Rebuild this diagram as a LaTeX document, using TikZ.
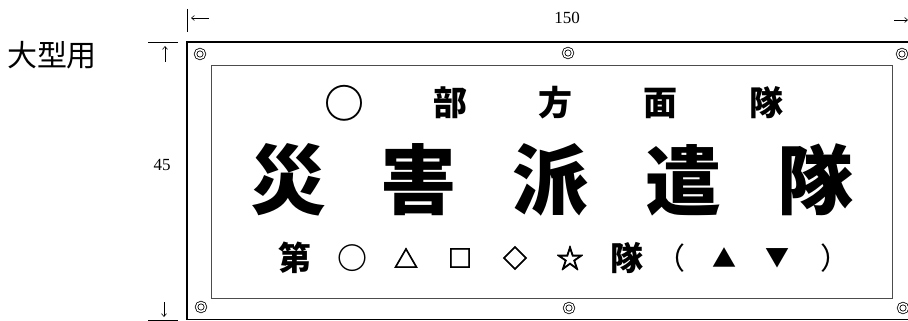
\documentclass[tikz,border=0pt]{standalone}
\usepackage{fontspec}
\setmainfont{Liberation Serif}
\newfontfamily\cjk{Noto Sans CJK JP}
\newfontfamily\cjksym{Noto Sans CJK JP}[FakeBold=3]
\usetikzlibrary{arrows.meta}
\tikzset{
  big/.style={font=\cjk\bfseries\fontsize{76}{76}\selectfont, inner sep=0pt},
  mid/.style={font=\cjk\bfseries\fontsize{34}{34}\selectfont, inner sep=0pt},
  low/.style={font=\cjk\bfseries\fontsize{33}{33}\selectfont, inner sep=0pt},
  sym/.style={font=\cjk\bfseries\fontsize{30}{30}\selectfont, inner sep=0pt},
  paren/.style={font=\cjk\fontsize{30}{30}\selectfont, inner sep=0pt},
  smallsym/.style={font=\cjksym\fontsize{24}{24}\selectfont, inner sep=0pt},
  dimtxt/.style={font=\fontsize{17}{17}\selectfont, inner sep=0pt},
  grom/.style={circle, draw, double, double distance=1.6pt, line width=0.8pt, minimum size=9pt, inner sep=0pt},
  dimline/.style={line width=0.6pt},
  dimarrow/.style={line width=0.6pt, -{Straight Barb[length=3pt,width=5pt]}},
}
\begin{document}
\begin{tikzpicture}[x=1pt,y=-1pt]
\useasboundingbox (0,0) rectangle (908,321);
\clip (0,0) rectangle (908,321);
% panels
\draw[line width=1.2pt] (187,42) rectangle (915,319.5);
\draw[line width=0.6pt, black!70] (211,65) rectangle (892,298);
% title
\node[font=\cjk\fontsize{30}{30}\selectfont, inner sep=0pt] (title) at (52,55) {大型用};
% dimensions
\coordinate (vt1) at (187,9); \coordinate (vt2) at (187,32);
\draw[dimline] (vt1) -- (vt2);
\coordinate (la1) at (209,18); \coordinate (la2) at (191,18);
\draw[dimarrow] (la1) -- (la2);
\coordinate (ra1) at (894,20); \coordinate (ra2) at (908,20);
\draw[dimarrow] (ra1) -- (ra2);
\node[dimtxt] (w) at (567,18) {150};
\coordinate (ht1) at (148,42); \coordinate (ht2) at (178,42);
\draw[dimline] (ht1) -- (ht2);
\coordinate (ua1) at (165,62); \coordinate (ua2) at (165,46);
\draw[dimarrow] (ua1) -- (ua2);
\coordinate (da1) at (164,302); \coordinate (da2) at (164,317);
\draw[dimarrow] (da1) -- (da2);
\coordinate (hb1) at (148,320); \coordinate (hb2) at (178,320);
\draw[dimline] (hb1) -- (hb2);
\node[dimtxt] (h) at (162,165) {45};
% grommets
\node[grom] (g1) at (200,54) {};
\node[grom] (g2) at (568,53) {};
\node[grom] (g3) at (902,54) {};
\node[grom] (g4) at (201,307) {};
\node[grom] (g5) at (569,308) {};
\node[grom] (g6) at (903,308) {};
% top line
\node[font=\cjk\bfseries\fontsize{40}{40}\selectfont, inner sep=0pt] (t0) at (344,103) {○};
\node[mid] (t1) at (450,103) {部};
\node[mid] (t2) at (555,103) {方};
\node[mid] (t3) at (660,103) {面};
\node[mid] (t4) at (766,103) {隊};
% big line
\node[big] (b1) at (288,180) {災};
\node[big] (b2) at (418,180) {害};
\node[big] (b3) at (550,180) {派};
\node[big] (b4) at (683,180) {遣};
\node[big] (b5) at (815,180) {隊};
% bottom line
\node[low] (s1) at (295,258) {第};
\node[sym] (s2) at (352,258) {○};
\node[smallsym] (s3) at (406,258) {△};
\node[smallsym] (s4) at (460,258) {□};
\node[smallsym] (s5) at (515,258) {◇};
\node[font=\cjksym\fontsize{27}{27}\selectfont, inner sep=0pt] (s6) at (570,258) {☆};
\node[low] (s7) at (627,258) {隊};
\node[paren] (s8) at (670,258) {（};
\node[font=\cjk\fontsize{24}{24}\selectfont, inner sep=0pt] (s9) at (724,258) {▲};
\node[font=\cjk\fontsize{24}{24}\selectfont, inner sep=0pt] (s10) at (777,258) {▼};
\node[paren] (s11) at (835,258) {）};
\end{tikzpicture}
\end{document}
